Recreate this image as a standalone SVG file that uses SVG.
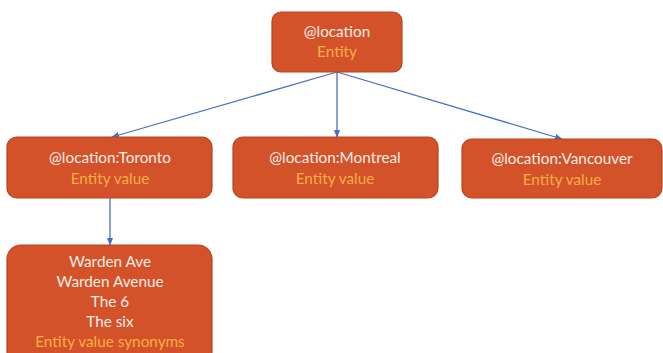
<svg xmlns="http://www.w3.org/2000/svg" width="663" height="353" viewBox="0 0 663 353">
  <defs>
    <marker id="arrow" viewBox="0 0 10 10" refX="9" refY="5" markerWidth="6" markerHeight="6" orient="auto-start-reverse">
      <path d="M0,1 L10,5 L0,9 z" fill="#4472C4"/>
    </marker>
    <style>
      .box { fill: #D4522A; stroke: #B5441F; stroke-width: 1.2; }
      .name { font-family: Lato, "Open Sans", "Liberation Sans", sans-serif; font-size: 15.3px; fill: #F6EDE6; text-anchor: middle; }
      .kind { font-family: Lato, "Open Sans", "Liberation Sans", sans-serif; font-size: 15.3px; fill: #F7AE45; text-anchor: middle; }
      .link { stroke: #4472C4; stroke-width: 1.3; fill: none; marker-end: url(#arrow); }
    </style>
  </defs>
  <rect width="663" height="353" fill="#FFFFFF"/>

  <g id="connectors">
    <line class="link" x1="337" y1="72" x2="112" y2="137"/>
    <line class="link" x1="337" y1="72" x2="337" y2="137"/>
    <line class="link" x1="337" y1="72" x2="562" y2="139"/>
    <line class="link" x1="110" y1="198" x2="110" y2="245"/>
  </g>

  <g id="location">
    <rect class="box" x="272" y="12" width="130" height="60" rx="9"/>
    <text class="name" x="337" y="37">@location</text>
    <text class="kind" x="337" y="57">Entity</text>
  </g>

  <g id="toronto">
    <rect class="box" x="7" y="137" width="205" height="61" rx="10"/>
    <text class="name" x="110" y="163">@location:Toronto</text>
    <text class="kind" x="110" y="184">Entity value</text>
  </g>

  <g id="montreal">
    <rect class="box" x="233" y="137" width="205" height="61" rx="10"/>
    <text class="name" x="335" y="163">@location:Montreal</text>
    <text class="kind" x="335" y="184">Entity value</text>
  </g>

  <g id="vancouver">
    <rect class="box" x="462" y="139" width="200" height="59" rx="10"/>
    <text class="name" x="562" y="164">@location:Vancouver</text>
    <text class="kind" x="562" y="185">Entity value</text>
  </g>

  <g id="synonyms">
    <rect class="box" x="7" y="245" width="205" height="120" rx="14"/>
    <text class="name" x="110" y="267">Warden Ave</text>
    <text class="name" x="110" y="287">Warden Avenue</text>
    <text class="name" x="110" y="307">The 6</text>
    <text class="name" x="110" y="327">The six</text>
    <text class="kind" x="110" y="347">Entity value synonyms</text>
  </g>
</svg>
